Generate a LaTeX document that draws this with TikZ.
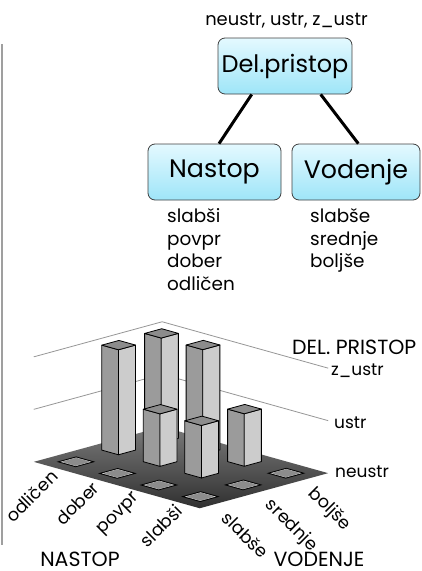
\documentclass[tikz,border=0pt]{standalone}
\usepackage{fontspec}
\setmainfont{Poppins}
\usetikzlibrary{calc}
\definecolor{boxtop}{RGB}{228,249,255}
\definecolor{boxbot}{RGB}{158,229,248}
\definecolor{floortop}{RGB}{122,122,122}
\definecolor{floorbot}{RGB}{48,48,48}
\definecolor{faceL}{RGB}{155,155,155}
\definecolor{faceR}{RGB}{204,204,204}
\definecolor{faceT}{RGB}{140,140,140}
\definecolor{mark}{RGB}{140,140,140}
\definecolor{wallc}{RGB}{150,150,150}
\newcommand\cellpt[3]{\coordinate (#1) at ({199.75+(#2)*(-41.5)+(#3)*42.8},{508.25+(#2)*(-11.6)+(#3)*(-11.7)});}
\newcommand\flatmark[2]{%
  \cellpt{mL}{#1+0.7}{#2+0.3}\cellpt{mF}{#1+0.3}{#2+0.3}\cellpt{mR}{#1+0.3}{#2+0.7}\cellpt{mB}{#1+0.7}{#2+0.7}
  \filldraw[fill=mark, draw=black, line width=1.3pt] (mL) -- (mF) -- (mR) -- (mB) -- cycle;
  \cellpt{mL}{#1+0.675}{#2+0.325}\cellpt{mF}{#1+0.325}{#2+0.325}\cellpt{mR}{#1+0.325}{#2+0.675}\cellpt{mB}{#1+0.675}{#2+0.675}
  \draw[gray!35, line width=0.45pt] (mL) -- (mF) -- (mR) -- (mB) -- cycle;}
\newcommand\drawbar[3]{%
  \cellpt{bL}{#1+0.7}{#2+0.3}\cellpt{bF}{#1+0.3}{#2+0.3}\cellpt{bR}{#1+0.3}{#2+0.7}\cellpt{bB}{#1+0.7}{#2+0.7}
  \filldraw[barface, fill=faceL] (bL) -- (bF) -- ($(bF)+(0,-#3)$) -- ($(bL)+(0,-#3)$) -- cycle;
  \filldraw[barface, fill=faceR] (bF) -- (bR) -- ($(bR)+(0,-#3)$) -- ($(bF)+(0,-#3)$) -- cycle;
  \filldraw[barface, fill=faceT] ($(bL)+(0,-#3)$) -- ($(bF)+(0,-#3)$) -- ($(bR)+(0,-#3)$) -- ($(bB)+(0,-#3)$) -- cycle;}
\begin{document}
\begin{tikzpicture}[x=1pt,y=-1pt,
  box/.style={draw=black!75, line width=0.8pt, rounded corners=7pt, top color=boxtop, bottom color=boxbot,
    minimum height=56pt, inner sep=0pt, font=\fontsize{25.3}{29}\selectfont},
  conn/.style={line width=3pt},
  vals/.style={anchor=base west, inner sep=0pt, font=\fontsize{18.4}{21}\selectfont},
  tick/.style={inner sep=0pt, font=\fontsize{17.5}{20}\selectfont},
  axlab/.style={inner sep=0pt, font=\fontsize{17}{20}\selectfont},
  barface/.style={draw=black, line width=0.8pt, line join=round},
  wall/.style={draw=wallc, line width=0.8pt}]
\useasboundingbox (0,0) rectangle (421,571);
% left rule
\draw[gray!75, line width=1.5pt] (2,44) -- (2,545);
% tree
\node[inner sep=0pt, font=\fontsize{17.9}{21}\selectfont] (domain) at (286.5,21) {neustr, ustr, z\_ustr};
\node[box, minimum width=134pt, font=\fontsize{24}{28}\selectfont] (del) at (285,66) {Del.pristop};
\node[box, minimum width=133pt] (nastop) at (214.5,172) {Nastop};
\node[box, minimum width=128pt] (vod) at (356,172) {Vodenje};
\draw[conn] ($(del.south)+(-33.3,0)$) -- ($(nastop.north)+(4.5,0)$);
\draw[conn] ($(del.south)+(35.7,0)$) -- ($(vod.north)+(2.3,0)$);
\node[vals] (n1) at (167,222.7) {slabši};
\node[vals] (n2) at (167,245.2) {povpr};
\node[vals] (n3) at (167,267.7) {dober};
\node[vals] (n4) at (167,290.2) {odličen};
\node[vals] (v1) at (310,222.7) {slabše};
\node[vals] (v2) at (310,245.2) {srednje};
\node[vals] (v3) at (310,267.7) {boljše};
% chart floor
\cellpt{FF}{0}{0}\cellpt{FL}{4}{0}\cellpt{FR}{0}{3}\cellpt{FB}{4}{3}
\shade[top color=floortop, bottom color=floorbot] (FL) -- (FF) -- (FR) -- (FB) -- cycle;
\foreach \h in {52.5,105}{
  \draw[wall] ($(FL)+(0,-\h)$) -- ($(FB)+(0,-\h)$) -- ($(FR)+(0,-\h)$);}
% flat marks (neustr)
\flatmark{3}{0}\flatmark{2}{0}\flatmark{1}{0}\flatmark{0}{0}\flatmark{0}{1}\flatmark{0}{2}
% bars, back to front
\drawbar{3}{2}{105}
\drawbar{3}{1}{105}
\drawbar{2}{2}{105}
\drawbar{2}{1}{52.5}
\drawbar{1}{2}{52.5}
\drawbar{1}{1}{52.5}
% axis labels
\foreach \t [count=\k from 0] in {slabši,povpr,dober,odličen}{
  \cellpt{e}{\k+0.5}{0}
  \node[tick, rotate=45, anchor=east] (na\k) at ($(e)+(0,5.5)$) {\t};}
\foreach \t [count=\k from 0] in {slabše,srednje,boljše}{
  \cellpt{e}{0}{\k+0.5}
  \node[tick, rotate=-45, anchor=west] (vo\k) at ($(e)+(4,12)$) {\t};}
\node[axlab, anchor=west] (zl) at (331,371) {z\_ustr};
\node[axlab, anchor=west] (ul) at (334,423) {ustr};
\node[axlab, anchor=west] (nl) at (335,472) {neustr};
\node[inner sep=0pt, anchor=west, font=\fontsize{20.5}{24}\selectfont] (dp) at (292,347.5) {DEL. PRISTOP};
\node[inner sep=0pt, anchor=base, text depth=0pt, font=\fontsize{20.5}{24}\selectfont] (nax) at (80,566) {NASTOP};
\node[inner sep=0pt, anchor=base, text depth=0pt, font=\fontsize{20.5}{24}\selectfont] (vax) at (319,566) {VODENJE};
\end{tikzpicture}
\end{document}
